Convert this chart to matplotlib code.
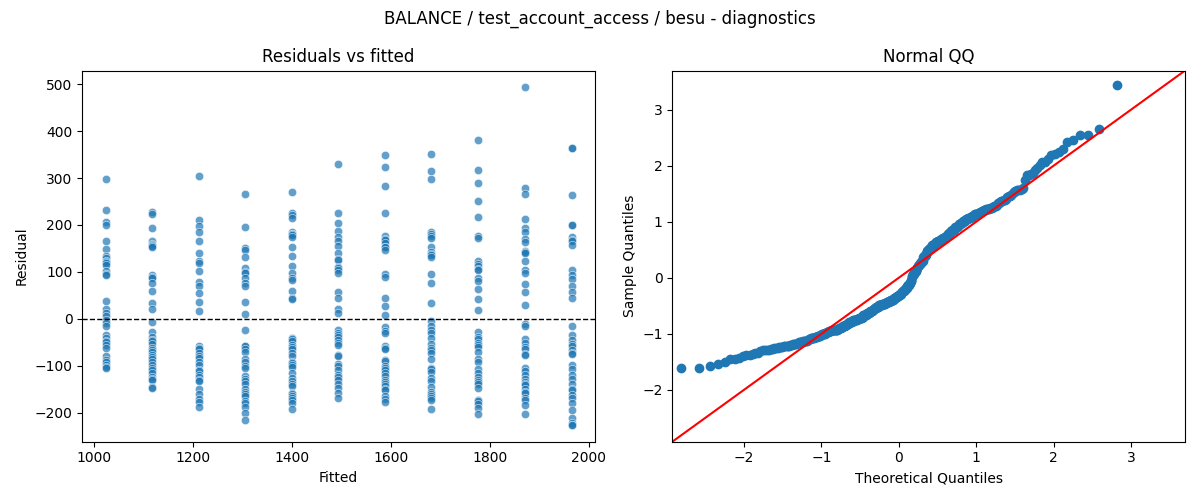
import numpy as np
import matplotlib
matplotlib.use("Agg")
import matplotlib.pyplot as plt
import seaborn as sns
from statistics import NormalDist

# fitted levels (x positions of the residual columns)
fitted_levels = [1024, 1118, 1212, 1306, 1400, 1494, 1588, 1682, 1776, 1870, 1965]

res_1024 = [298, 232, 207, 200, 166, 148, 133, 130, 123, 121, 118, 115, 101, 96, 94, 37, 21, 12, 5,
            -2, -9, -16, -34, -40, -48, -50, -55, -62, -80, -88, -91, -98, -102, -105]
res_1118 = [228, 223, 193, 165, 160, 157, 155, 152, 94, 90, 87, 77, 60, 33, 21, -6, -28, -38, -45,
            -48, -54, -62, -66, -70, -77, -82, -85, -91, -98, -105, -110, -116, -123, -128, -130,
            -145, -147]
res_1212 = [304, 211, 198, 185, 165, 140, 124, 118, 102, 79, 70, 55, 36, 17, -59, -62, -65, -72,
            -80, -84, -91, -98, -109, -112, -119, -125, -130, -133, -150, -160, -170, -178, -187]
res_1306 = [266, 195, 150, 147, 131, 108, 100, 97, 87, 77, 70, 36, 10, -23, -58, -59, -64, -70,
            -86, -91, -100, -105, -121, -128, -133, -140, -150, -155, -160, -165, -175, -180, -187,
            -201, -215]
res_1400 = [270, 226, 221, 214, 186, 181, 180, 178, 175, 152, 133, 113, 97, 87, 82, 60, 45, 42,
            -41, -44, -48, -55, -60, -65, -73, -80, -91, -95, -98, -103, -116, -126, -132, -140,
            -144, -158, -160, -165, -169, -172, -180, -192]
res_1494 = [330, 225, 204, 187, 174, 165, 155, 141, 127, 125, 110, 108, 103, 97, 58, 44, 21, 12,
            -23, -30, -35, -38, -45, -52, -55, -77, -80, -96, -101, -110, -119, -124, -130, -140,
            -147, -158, -169]
res_1588 = [349, 323, 283, 225, 177, 170, 168, 161, 154, 152, 147, 95, 90, 45, 28, 9, -18, -25,
            -30, -57, -62, -65, -87, -90, -101, -104, -109, -116, -122, -130, -135, -138, -144,
            -150, -152, -164, -170, -178]
res_1682 = [352, 315, 297, 184, 180, 177, 172, 154, 143, 138, 135, 131, 96, 76, 33, -4, -16, -23,
            -30, -40, -53, -62, -66, -72, -85, -105, -108, -113, -126, -133, -145, -157, -160,
            -164, -168, -172, -192]
res_1776 = [381, 317, 289, 251, 218, 177, 172, 124, 117, 112, 106, 103, 87, 80, 63, 42, 19, -28,
            -38, -43, -52, -56, -60, -70, -86, -92, -107, -115, -124, -130, -134, -140, -148, -174,
            -176, -181, -190, -202]
res_1870 = [493, 278, 265, 212, 194, 186, 170, 163, 145, 143, 140, 123, 103, 97, 74, 57, 29, -11,
            -16, -43, -52, -60, -65, -74, -78, -105, -112, -119, -128, -135, -140, -142, -150, -156,
            -158, -168, -172, -183, -202]
res_1965 = [365, 365, 263, 200, 199, 174, 168, 165, 157, 105, 94, 84, 70, 58, 45, -16, -34, -45,
            -54, -59, -66, -73, -76, -99, -106, -120, -128, -138, -150, -152, -162, -169, -180, -194,
            -211, -221, -226, -226]

columns = [res_1024, res_1118, res_1212, res_1306, res_1400, res_1494,
           res_1588, res_1682, res_1776, res_1870, res_1965]

fitted = np.concatenate([[f] * len(c) for f, c in zip(fitted_levels, columns)]).astype(float)
resid = np.concatenate(columns).astype(float)

fig, (ax1, ax2) = plt.subplots(1, 2, figsize=(12, 5), dpi=100)

# residuals vs fitted
sns.scatterplot(x=fitted, y=resid, alpha=0.7, ax=ax1)
ax1.axhline(0, color="black", linestyle="--", linewidth=1)
ax1.set_title("Residuals vs fitted")
ax1.set_xlabel("Fitted")
ax1.set_ylabel("Residual")

# normal QQ of standardised residuals
z = np.sort((resid - resid.mean()) / resid.std())
n = len(z)
theo = np.array([NormalDist().inv_cdf(i / (n + 1)) for i in range(1, n + 1)])
ax2.set_xmargin(0.02)
ax2.plot(theo, z, marker="o", markerfacecolor="C0", markeredgecolor="C0", linestyle="none")
xlim = ax2.get_xlim()
ylim = ax2.get_ylim()
lo = min(xlim[0], ylim[0])
hi = max(xlim[1], ylim[1])
ax2.plot([lo, hi], [lo, hi], "r-")
ax2.set_xlim(lo, hi)
ax2.set_ylim(lo, hi)
ax2.set_title("Normal QQ")
ax2.set_xlabel("Theoretical Quantiles")
ax2.set_ylabel("Sample Quantiles")

fig.suptitle("BALANCE / test_account_access / besu - diagnostics")
fig.tight_layout()
fig.savefig("out.png")
